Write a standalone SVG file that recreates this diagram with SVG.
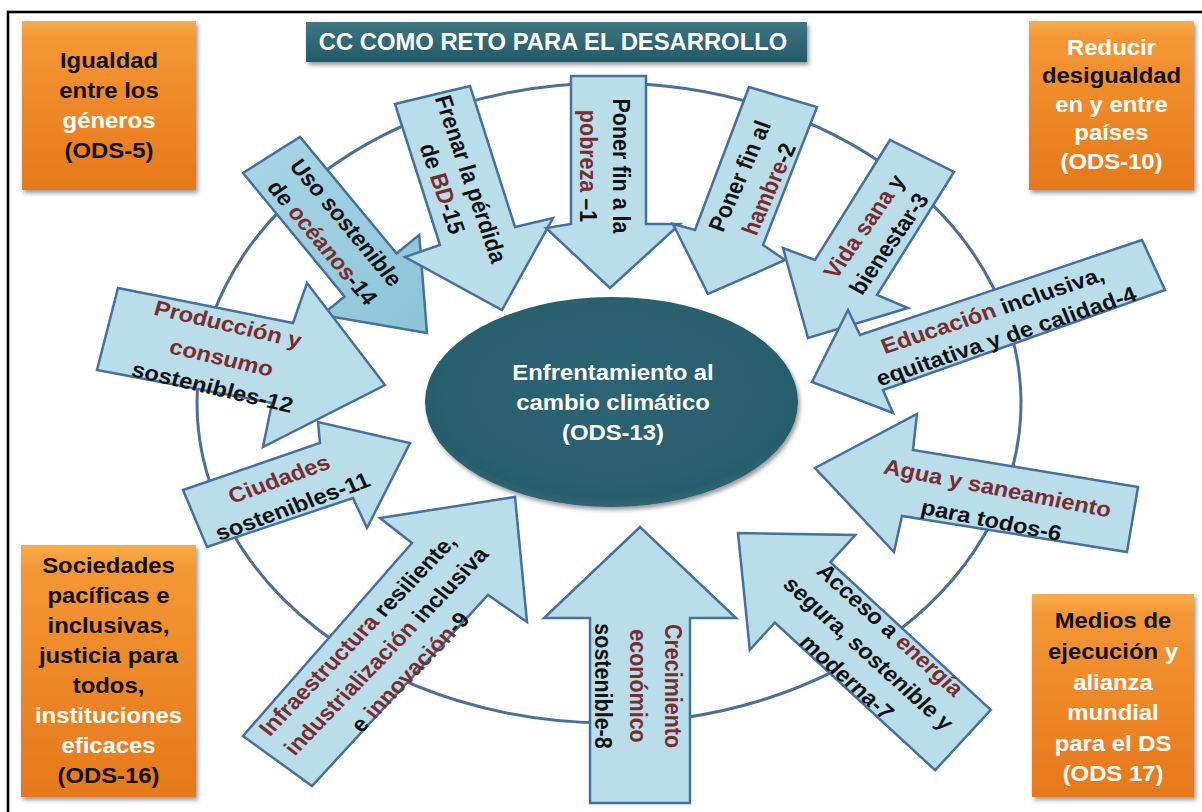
<svg xmlns="http://www.w3.org/2000/svg" width="1202" height="812" viewBox="0 0 1202 812">
<defs>
<linearGradient id="gOr" x1="0" y1="0" x2="0" y2="1"><stop offset="0" stop-color="#f8ad4c"/><stop offset="0.1" stop-color="#f49634"/><stop offset="1" stop-color="#e6781b"/></linearGradient>
<linearGradient id="gTi" x1="0" y1="0" x2="0" y2="1"><stop offset="0" stop-color="#3d7684"/><stop offset="1" stop-color="#245968"/></linearGradient>
<radialGradient id="gEl" cx="0.5" cy="0.45" r="0.6"><stop offset="0" stop-color="#2d6575"/><stop offset="0.85" stop-color="#285d6c"/><stop offset="1" stop-color="#3a7382"/></radialGradient>
<linearGradient id="gDk" x1="0" y1="0" x2="1" y2="1"><stop offset="0" stop-color="#a9d6e6"/><stop offset="1" stop-color="#8cc4d8"/></linearGradient>
<filter id="sh" x="-10%" y="-10%" width="130%" height="130%"><feDropShadow dx="2" dy="3" stdDeviation="2" flood-color="#000" flood-opacity="0.4"/></filter>
</defs>
<style>
.frame{fill:none;stroke:#000;stroke-width:2.6}
.ring{fill:none;stroke:#4a6f9b;stroke-width:3}
.arr{fill:#b9dde9;stroke:#46709d;stroke-width:2.5;stroke-linejoin:miter}
.dk{fill:url(#gDk)}
.box{fill:url(#gOr);filter:url(#sh)}
text{font-family:"Liberation Sans",Arial,sans-serif}
.bx{font-size:21.5px;font-weight:bold;fill:#111;text-anchor:middle}
.tb{font-size:21.5px;font-weight:bold;fill:#111;text-anchor:middle}
.r{fill:#7b2c2f}
.w{fill:#fff}
</style>
<rect class="frame" x="8" y="12" width="1200" height="806"/>
<g id="cycle"><ellipse class="ring" cx="609" cy="403" rx="412" ry="320"/></g>

<g id="title">
<rect x="306" y="22" width="501" height="40" fill="url(#gTi)" filter="url(#sh)"/>
<text transform="matrix(1.11,0,0,1,553,0)" x="0" y="50" font-size="24" font-weight="bold" fill="#fff" text-anchor="middle" textLength="422" lengthAdjust="spacingAndGlyphs">CC COMO RETO PARA EL DESARROLLO</text>
</g>

<g id="ods5">
<rect class="box" x="22" y="21" width="174" height="169"/>
<text class="bx" transform="matrix(1.11,0,0,1,109,0)"><tspan x="0" y="68">Igualdad</tspan><tspan x="0" y="98">entre los</tspan><tspan x="0" y="128" class="w">géneros</tspan><tspan x="0" y="158">(ODS-5)</tspan></text>
</g>

<g id="ods10">
<rect class="box" x="1029" y="21" width="165" height="169"/>
<text class="bx" transform="matrix(1.11,0,0,1,1111.5,0)"><tspan x="0" y="55" class="w">Reducir</tspan><tspan x="0" y="83.5">desigualdad</tspan><tspan x="0" y="112" class="w">en y entre</tspan><tspan x="0" y="140.5" class="w">países</tspan><tspan x="0" y="169" class="w">(ODS-10)</tspan></text>
</g>

<g id="ods16">
<rect class="box" x="21" y="545" width="175" height="252"/>
<text class="bx" transform="matrix(1.11,0,0,1,108.5,0)"><tspan x="0" y="573">Sociedades</tspan><tspan x="0" y="603">pacíficas e</tspan><tspan x="0" y="633">inclusivas,</tspan><tspan x="0" y="663">justicia para</tspan><tspan x="0" y="693">todos,</tspan><tspan x="0" y="723" class="w">instituciones</tspan><tspan x="0" y="753" class="w">eficaces</tspan><tspan x="0" y="783">(ODS-16)</tspan></text>
</g>

<g id="ods17">
<rect class="box" x="1032" y="594" width="162" height="203"/>
<text class="bx" transform="matrix(1.11,0,0,1,1113,0)"><tspan x="0" y="628">Medios de</tspan><tspan x="0" y="659">ejecución<tspan class="w"> y</tspan></tspan><tspan x="0" y="690" class="w">alianza</tspan><tspan x="0" y="720" class="w">mundial</tspan><tspan x="0" y="751" class="w">para el DS</tspan><tspan x="0" y="781" class="w">(ODS 17)</tspan></text>
</g>

<g id="a14">
<polygon class="arr dk" points="243,173 344.6,296.5 322,315 427,333 419.2,234.9 396.6,253.5 300,137"/>
<text class="tb" transform="translate(346.4,222.5) scale(1.11,1) rotate(52.9)" y="7.6">Uso sostenible</text>
<text class="tb" transform="translate(322.6,242.5) scale(1.11,1) rotate(52.9)" y="7.6">de <tspan class="r">océanos</tspan>-14</text>
</g>

<g id="a15">
<polygon class="arr" points="395,104 440,245 405,257 502,310 553,218 515,227 470,86"/>
<text class="tb" font-size="21.2" transform="translate(471,179) scale(1.11,1) rotate(72.8)" y="7.5">Frenar la pérdida</text>
<text class="tb" font-size="21.2" transform="translate(442.6,188.6) scale(1.11,1) rotate(72.8)" y="7.5">de <tspan class="r">BD</tspan>-15</text>
</g>

<g id="a1">
<polygon class="arr" points="571,76 571,224 546,228 610,288 680,224 646,224 646,76"/>
<text class="tb" font-size="21.2" transform="translate(621,166) scale(1.11,1) rotate(90)" y="7.5">Poner fin a la</text>
<text class="tb" font-size="21.2" transform="translate(588,166) scale(1.11,1) rotate(90)" y="7.5"><tspan class="r">pobreza</tspan> –1</text>
</g>

<g id="a2">
<polygon class="arr" points="749,87 695,230 673,224 708,294 785,260 763,245 817,107"/>
<text class="tb" font-size="21.3" transform="translate(739.4,176) scale(1.11,1) rotate(-68.1)" y="7.5">Poner fin al</text>
<text class="tb" font-size="21.3" transform="translate(768.6,189) scale(1.11,1) rotate(-68.1)" y="7.5"><tspan class="r">hambre</tspan>-2</text>
</g>

<g id="a3">
<polygon class="arr" points="890,140 815,260 783,248 808,338 908,308 877,295 954,172"/>
<text class="tb" transform="translate(864,226.4) scale(1.11,1) rotate(-57.8)" y="7.6"><tspan class="r">Vida sana</tspan> y</text>
<text class="tb" transform="translate(888.8,243.6) scale(1.11,1) rotate(-57.8)" y="7.6">bienestar-3</text>
</g>

<g id="a4">
<polygon class="arr" points="1142,240 860,335 848,310 812,382 893,413 883,390 1165,290"/>
<text class="tb" transform="translate(992.5,310) scale(1.11,1) rotate(-20.4)" y="7.6"><tspan class="r">Educación</tspan> inclusiva,</text>
<text class="tb" transform="translate(1006,336) scale(1.11,1) rotate(-20.4)" y="7.6">equitativa y de calidad-4</text>
</g>

<g id="a6">
<polygon class="arr" points="1138,487 913,450 917,414 815,468 894,552 902,516 1127,552"/>
<text class="tb r" transform="translate(997.6,488) scale(1.11,1) rotate(12.2)" y="7.6">Agua y saneamiento</text>
<text class="tb" transform="translate(991.4,520) scale(1.11,1) rotate(12.2)" y="7.6">para todos-6</text>
</g>

<g id="a7">
<polygon class="arr" points="990.8,709.8 830.4,562.2 855.4,535 738,533 749.8,649.8 774.8,622.6 935.2,770.2"/>
<text class="tb" transform="translate(890.5,629.7) scale(1.11,1) rotate(45)" y="7.6">Acceso a <tspan class="r">energía</tspan></text>
<text class="tb" transform="translate(868.8,653.3) scale(1.11,1) rotate(45)" y="7.6">segura, sostenible y</text>
<text class="tb" transform="translate(847.1,676.9) scale(1.11,1) rotate(45)" y="7.6">moderna-7</text>
</g>

<g id="a8">
<polygon class="arr" points="590,803 590,618 544,618 640,527 736,618 690,618 690,803"/>
<text class="tb r" transform="translate(673,686) scale(1.11,1) rotate(90)" y="7.6">Crecimiento</text>
<text class="tb r" transform="translate(638,686) scale(1.11,1) rotate(90)" y="7.6">económico</text>
<text class="tb" transform="translate(603,686) scale(1.11,1) rotate(90)" y="7.6">sostenible-8</text>
</g>

<g id="a9">
<polygon class="arr" points="243,736 412,543 380,518 515,497 527,622 488,595 312,786"/>
<text class="tb" font-size="21" transform="translate(357.5,635) scale(1.11,1) rotate(-49)" y="7.4"><tspan class="r">Infraestructura</tspan> resiliente,</text>
<text class="tb" font-size="21" transform="translate(386,651) scale(1.11,1) rotate(-49)" y="7.4"><tspan class="r">industrialización</tspan> inclusiva</text>
<text class="tb" font-size="21" transform="translate(410,672) scale(1.11,1) rotate(-49)" y="7.4">e <tspan class="r">innovación</tspan>-9</text>
</g>

<g id="a11">
<polygon class="arr" points="183,490 320,443 318,422 410,443 367,528 353,498 207,547"/>
<text class="tb r" font-size="21" transform="translate(279,479) scale(1.11,1) rotate(-22)" y="7.4">Ciudades</text>
<text class="tb" font-size="21" transform="translate(292.5,506.5) scale(1.11,1) rotate(-22)" y="7.4">sostenibles-11</text>
</g>

<g id="a12">
<polygon class="arr" points="118,288 293,323 307,283 385,385 263,447 272,403 97,370"/>
<text class="tb r" transform="translate(228,324) scale(1.11,1) rotate(14.4)" y="7.6">Producción y</text>
<text class="tb r" transform="translate(221.5,357.5) scale(1.11,1) rotate(14.4)" y="7.6">consumo</text>
<text class="tb" transform="translate(212.5,387) scale(1.11,1) rotate(14.4)" y="7.6">sostenibles-12</text>
</g>

<g id="ods13">
<ellipse cx="611.5" cy="402" rx="186.5" ry="105" fill="url(#gEl)" filter="url(#sh)"/>
<text class="bx w" transform="matrix(1.11,0,0,1,613,0)"><tspan x="0" y="380">Enfrentamiento al</tspan><tspan x="0" y="410">cambio climático</tspan><tspan x="0" y="440">(ODS-13)</tspan></text>
</g>
</svg>
